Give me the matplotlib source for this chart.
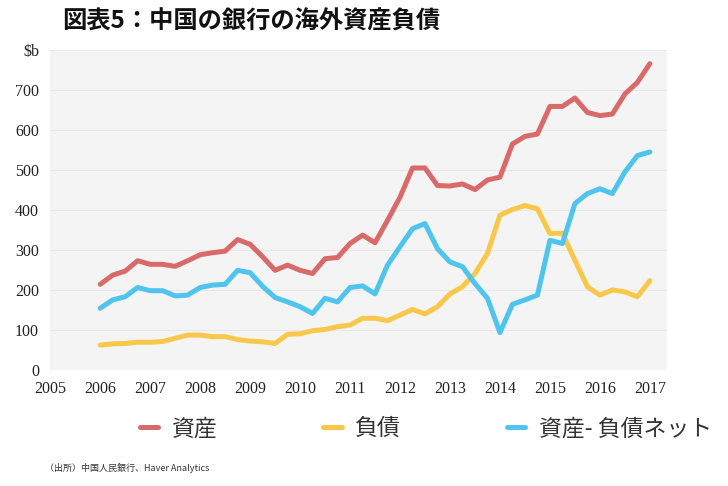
import numpy as np
import matplotlib.pyplot as plt

# 四半期データ (2006Q1 - 2017Q1), $b
assets = [214, 237, 247, 273,
          264, 264, 259, 273,
          288, 293, 297, 326,
          314, 283, 249, 262,
          249, 241, 278, 281,
          316, 337, 318, 374,
          432, 505, 505, 461,
          460, 465, 451, 475,
          482, 565, 584, 590,
          659, 659, 680, 644,
          636, 640, 690, 719,
          766]
liabilities = [62, 65, 66, 69,
               69, 71, 79, 87,
               87, 83, 83, 76,
               72, 70, 66, 89,
               90, 98, 101, 108,
               112, 129, 129, 123,
               137, 151, 140, 158,
               190, 208, 241, 291,
               387, 401, 411, 403,
               341, 342, 274, 208,
               187, 200, 195, 183,
               223]
net = [154, 175, 183, 206,
       198, 198, 185, 187,
       206, 212, 214, 249,
       243, 209, 181, 170,
       158, 141, 179, 170,
       206, 210, 190, 262,
       308, 353, 366, 303,
       270, 258, 216, 179,
       93, 164, 175, 187,
       324, 316, 416, 441,
       453, 441, 495, 536,
       545]
years = list(range(2005, 2018))
yticks = [0, 100, 200, 300, 400, 500, 600, 700, 800]
ylabels = ["0", "100", "200", "300", "400", "500", "600", "700", r"\$b"]

x = 2006 + np.arange(len(assets)) / 4

jp = ["Noto Sans CJK JP", "DejaVu Sans"]

fig = plt.figure(figsize=(7.28, 4.86), dpi=100)
ax = fig.add_axes([0.069, 0.239, 0.847, 0.658])
ax.set_facecolor("#f4f4f4")

ax.plot(x, assets, color="#d96a6a", lw=3.6, label="資産", solid_capstyle="round")
ax.plot(x, liabilities, color="#f9c84a", lw=3.6, label="負債", solid_capstyle="round")
ax.plot(x, net, color="#4fc4ec", lw=3.6, label="資産- 負債ネット", solid_capstyle="round")

ax.set_xlim(2005, 2017.34)
ax.set_ylim(0, 800)
ax.set_xticks(years)
ax.set_xticklabels([str(y) for y in years], family="Liberation Serif", fontsize=11.5)
ax.set_yticks(yticks)
ax.set_yticklabels(ylabels, family="Liberation Serif", fontsize=11.5)
ax.tick_params(length=0, pad=8, colors="#222222")
ax.grid(axis="y", color="#e8e8e8", lw=0.8)
ax.set_axisbelow(True)
for s in ax.spines.values():
    s.set_visible(False)

fig.text(0.085, 0.955, "図表5：中国の銀行の海外資産負債", family=jp,
         fontsize=17.5, fontweight="bold", va="center", color="#111111")

fig.legend(loc="center", bbox_to_anchor=(0.585, 0.118), ncol=3, frameon=False,
           prop={"family": jp, "size": 16.5}, handlelength=0.8,
           columnspacing=4.6, handletextpad=0.6, labelcolor="#333333")

fig.text(0.062, 0.038, "（出所）中国人民銀行、Haver Analytics", family=jp,
         fontsize=6.5, color="#333333", va="center")

fig.savefig("out.png", dpi=100)
